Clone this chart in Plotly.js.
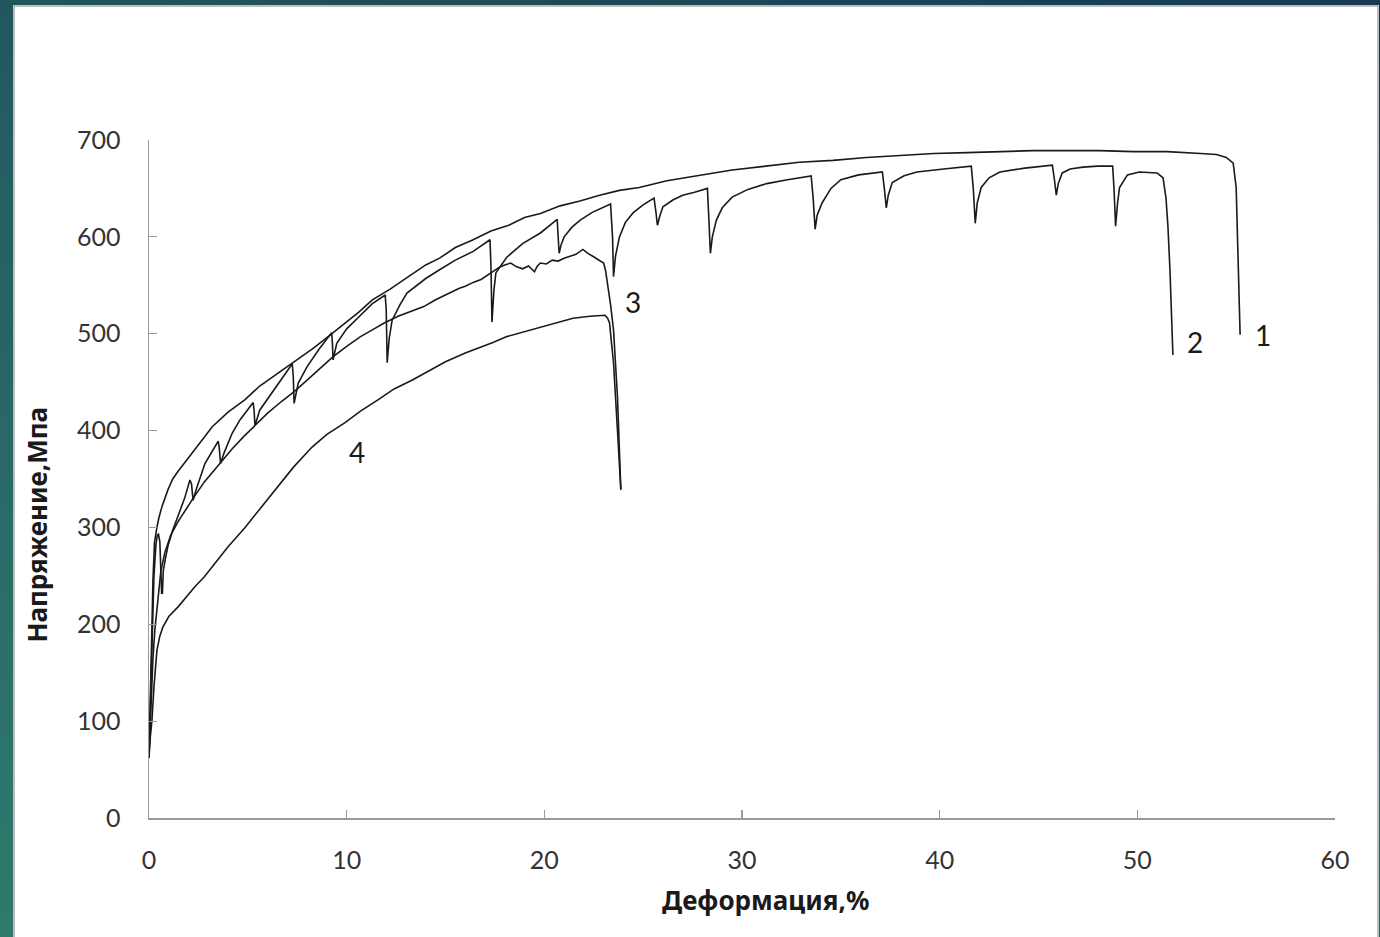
<!DOCTYPE html>
<html>
<head>
<meta charset="utf-8">
<script src="https://cdn.plot.ly/plotly-3.0.1.min.js"></script>
<style>
  html, body { margin:0; padding:0; width:1380px; height:937px; overflow:hidden;
    background: linear-gradient(200deg, #173a4f 0%, #245e62 45%, #2f7a6c 100%); }
  #frame { position:absolute; left:13px; top:5px; width:1362px; height:940px;
    border:2px solid #bdbdbd; border-bottom:none; background:#ffffff; }
  #chart { width:1362px; height:932px; }
</style>
</head>
<body>
<div id="frame"><div id="chart"></div></div>
<script>
// Curve 1
const strain1 = [0.0,0.05,0.1,0.15,0.2,0.28,0.4,0.5,0.65,0.96,1.2,1.47,2.0,2.33,2.93,3.2,4.0,4.86,5.6,6.5,7.3,8.25,9.0,9.9,10.6,11.3,12.2,13.05,14.0,14.7,15.5,16.4,17.3,18.2,19.0,19.8,20.8,21.8,22.8,23.8,24.8,26.2,27.8,29.5,31.2,32.9,34.6,36.3,38.0,39.7,41.4,43.05,44.7,46.4,48.1,49.8,51.5,53.2,54.0,54.5,54.85,55.0,55.1,55.2];
const stress1 = [62,100,150,200,245,285,300,310,321,339,350,358,372,381,397,404,419,432,446,459,471,484,496,511,522,535,546,558,571,578,589,597,606,612,620,624,632,637,643,648,651,658,663,669,673,677,679,682,684,686,687,688,689,689,689,688,688,686,685,682,676,651,583,499];

// Curve 2 (with unloading cycles)
const strain2 = [0.0,0.08,0.15,0.25,0.35,0.42,0.48,0.55,0.6,0.64,0.68,0.72,0.85,0.96,1.2,1.47,1.8,2.07,2.15,2.23,2.4,2.83,3.2,3.5,3.55,3.62,3.8,4.2,4.6,5.0,5.27,5.32,5.36,5.6,6.2,6.8,7.25,7.3,7.34,7.55,8.0,8.6,9.24,9.28,9.31,9.5,10.0,10.6,11.3,11.95,12.0,12.05,12.15,12.3,12.7,13.05,14.0,14.7,15.5,16.4,17.25,17.3,17.35,17.45,17.55,18.1,18.9,19.8,20.65,20.7,20.75,20.85,21.0,21.4,21.8,22.4,23.35,23.45,23.5,23.6,23.8,24.1,24.5,25.0,25.55,25.65,25.72,25.85,26.0,26.5,27.0,27.6,28.25,28.32,28.4,28.5,28.7,29.0,29.5,30.3,31.25,32.3,33.5,33.6,33.7,33.8,34.05,34.5,35.0,35.9,37.1,37.2,37.3,37.4,37.6,38.2,38.85,40.2,41.6,41.7,41.8,41.9,42.1,42.5,43.05,44.3,45.7,45.8,45.9,46.0,46.2,46.6,47.25,48.0,48.75,48.82,48.9,49.0,49.1,49.5,50.1,51.0,51.3,51.45,51.55,51.65,51.8];
const stress2 = [63,130,190,250,282,292,293,285,255,232,232,255,270,281,297,311,330,349,345,328,340,366,379,389,383,366,377,397,411,422,429,420,405,421,438,456,469,455,428,449,466,484,501,490,473,490,505,517,531,540,525,470,495,514,530,542,557,566,576,585,597,570,512,545,563,579,593,604,618,600,583,592,600,610,617,625,634,600,559,580,600,615,625,633,640,625,612,622,631,638,643,646,650,620,583,600,617,630,641,649,655,659,663,640,608,622,635,650,659,664,667,650,630,643,656,663,667,670,673,650,614,635,651,661,667,671,674,660,643,655,666,670,672,673,673,650,611,635,651,664,667,666,661,640,610,566,478];

// Curve 3
const strain3 = [0.0,0.1,0.2,0.3,0.45,0.6,0.8,1.1,1.47,1.8,2.23,2.8,3.2,3.6,4.2,4.8,5.36,6.0,6.7,7.33,8.0,8.6,9.3,10.0,10.7,11.3,11.9,12.6,13.2,13.9,14.5,15.1,15.7,16.0,16.4,16.8,17.25,17.5,17.75,18.0,18.3,18.6,18.9,19.2,19.5,19.65,19.8,20.1,20.4,20.7,21.0,21.3,21.6,21.95,22.2,22.45,22.7,23.0,23.1,23.2,23.35,23.5,23.7,23.87];
const stress3 = [62,120,165,195,225,255,274,292,306,317,330,347,357,367,381,394,405,418,430,440,452,463,476,487,497,504,511,518,523,528,535,541,547,549,553,556,562,566,569,571,573,569,567,570,564,570,573,572,576,575,578,580,582,587,583,580,577,573,565,552,530,504,435,339];

// Curve 4
const strain4 = [0.0,0.05,0.15,0.25,0.4,0.55,0.7,1.0,1.47,2.0,2.33,2.8,3.2,4.0,4.86,5.7,6.5,7.3,8.25,9.0,9.9,10.7,11.6,12.4,13.3,14.1,15.0,16.0,16.4,17.4,18.1,19.0,19.8,20.6,21.45,22.3,23.07,23.2,23.3,23.4,23.5,23.7,23.87];
const stress4 = [63,80,101,135,173,188,197,208,218,231,239,249,259,280,300,321,342,362,383,396,408,420,432,443,452,461,471,480,483,491,497,502,507,511,516,518,519,516,511,490,470,400,339];

// Curve labels
const labelText = ['1','2','3','4'];
const labelX = [56.35, 52.9, 24.5, 10.5];
const labelY = [499, 491, 533, 378];

const xTitle = 'Деформация,%';
const yTitle = 'Напряжение,Мпа';
const xTicks = [0,10,20,30,40,50,60];
const yTicks = [0,100,200,300,400,500,600,700];

const lineStyle = {color:'#1a1a1a', width:1.6};
const traces = [[strain1,stress1],[strain2,stress2],[strain3,stress3],[strain4,stress4]].map(p => ({
  x:p[0], y:p[1], type:'scatter', mode:'lines', line:lineStyle, showlegend:false, hoverinfo:'skip'
}));

const tickFont = {family:'Lato, "Open Sans", sans-serif', size:25, color:'#333333'};
const titleFont = {family:'"Noto Sans", "Open Sans", sans-serif', size:26, color:'#1a1a1a', weight:'bold'};

const annotations = labelText.map((t,i) => ({x:labelX[i], y:labelY[i], xref:'x', yref:'y', text:t, showarrow:false,
    font:{family:'Lato, "Open Sans", sans-serif', size:28, color:'#1a1a1a'}}));
annotations.push({xref:'paper', yref:'paper', x:0.52, y:-0.121, xanchor:'center', yanchor:'middle',
  text:xTitle, showarrow:false, font:titleFont});
annotations.push({xref:'paper', yref:'paper', x:-0.094, y:0.432, xanchor:'center', yanchor:'middle',
  text:yTitle, textangle:-90, showarrow:false, font:titleFont});

const layout = {
  width:1362, height:932,
  margin:{l:134, r:42, t:133, b:121},
  paper_bgcolor:'#ffffff', plot_bgcolor:'#ffffff',
  showlegend:false, hovermode:false,
  xaxis:{range:[0,60], tickvals:xTicks, ticktext:xTicks.map(String), ticks:'inside', ticklen:8, tickwidth:1.2, tickcolor:'#9a9a9a',
    showline:true, linecolor:'#9a9a9a', linewidth:1.5, showgrid:false, zeroline:false, tickfont:tickFont,
    ticklabelstandoff:19},
  yaxis:{range:[0,700], tickvals:yTicks, ticktext:yTicks.map(String), ticks:'inside', ticklen:8, tickwidth:1.2, tickcolor:'#9a9a9a',
    showline:true, linecolor:'#9a9a9a', linewidth:1.5, showgrid:false, zeroline:false, tickfont:tickFont,
    ticklabelstandoff:22},
  annotations: annotations
};

Plotly.newPlot('chart', traces, layout, {staticPlot:true, displayModeBar:false});
</script>
</body>
</html>
